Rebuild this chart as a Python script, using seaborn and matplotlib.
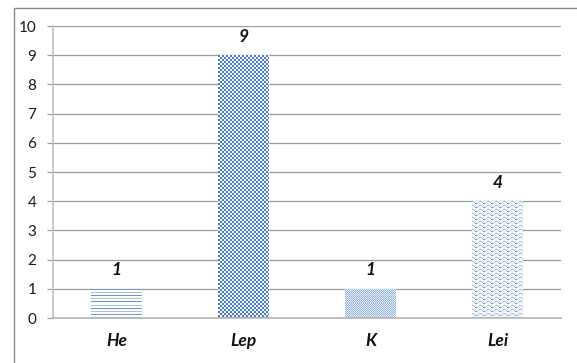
import numpy as np
import pandas as pd
import matplotlib
matplotlib.use("Agg")
import matplotlib.pyplot as plt
from matplotlib.patches import Rectangle
import matplotlib.colors as mcolors
import seaborn as sns

categories = ["He", "Lep", "K", "Lei"]
counts = [1, 9, 1, 4]
y_ticks = list(range(0, 11))

df = pd.DataFrame({"category": categories, "count": counts})

sns.set_theme(style="white")
plt.rcParams["font.family"] = ["Lato", "DejaVu Sans"]

W, H = 577, 363
fig = plt.figure(figsize=(W / 100, H / 100), dpi=100)
ax = fig.add_axes([53 / W, 1 - 318 / H, (561 - 53) / W, (318 - 26) / H])

sns.barplot(data=df, x="category", y="count", ax=ax, width=0.4,
            color="white", edgecolor="none", linewidth=0, zorder=2)

ax.set_ylim(0, 10)
ax.set_xlim(-0.5, len(categories) - 0.5)
ax.set_yticks(y_ticks)
ax.set_yticklabels([str(t) for t in y_ticks], fontsize=11, color="#1a1a1a")
ax.set_xlabel("")
ax.set_ylabel("")

# horizontal gridlines
ax.yaxis.grid(True, color="#9a9a9a", linewidth=0.9, zorder=0)
ax.xaxis.grid(False)
ax.set_axisbelow(True)

for side in ["top", "right"]:
    ax.spines[side].set_visible(False)
ax.spines["left"].set_color("#c0c0c0")
ax.spines["bottom"].set_color("#b4b4b4")
ax.spines["left"].set_linewidth(1.2)
ax.spines["bottom"].set_linewidth(1.2)

# category labels between boundary ticks
ax.set_xticks(np.arange(len(categories)))
ax.set_xticklabels(categories, fontsize=12.5, fontweight="bold", fontstyle="italic",
                   color="#111111")
ax.tick_params(axis="x", length=0, pad=11)
ax.set_xticks(np.arange(-0.5, len(categories)), minor=True)
ax.tick_params(axis="x", which="minor", direction="out", length=5,
               color="#b4b4b4", width=1.2)
ax.tick_params(axis="y", direction="out", length=4, color="#9a9a9a",
               width=0.9, pad=8, left=True)


def rgb(h):
    return np.array(mcolors.to_rgb(h))


def fill_pattern(name, h, w):
    img = np.ones((h, w, 3))
    yy, xx = np.mgrid[0:h, 0:w]
    if name == "lines":
        dark, light = rgb("#6d93cd"), rgb("#a8c0e4")
        for r in range(h):
            if r % 3 == 1:
                img[r, :] = dark if (r // 3) % 2 == 0 else light
    elif name == "bigcheck":
        mask = ((xx // 2) + (yy // 2)) % 2 == 0
        img[mask] = rgb("#4a7cc4")
        img[~mask] = rgb("#f4f7fc")
    elif name == "smallcheck":
        mask = (xx + yy) % 2 == 0
        img[mask] = rgb("#9fbbe3")
        img[~mask] = rgb("#e2eaf6")
        grid = (xx % 4 == 0) | (yy % 4 == 0)
        img[grid & mask] = rgb("#8eaedc")
    elif name == "wave":
        wave = [0, 0, 1, 2, 2, 2, 1, 0]
        img[:] = rgb("#f7f9fd")
        light = rgb("#a6c0e6")
        dark = rgb("#7b9fd6")
        for c in range(w):
            off = wave[c % 8]
            for r0 in range(0, h, 4):
                r = r0 + off
                if r < h:
                    img[r, c] = dark if c % 8 in (3, 4) else light
    return img


pattern_names = ["lines", "bigcheck", "smallcheck", "wave"]
fig.canvas.draw()
bars = list(ax.patches)
for i, (patch, name) in enumerate(zip(bars, pattern_names)):
    bb = patch.get_window_extent()
    h = max(int(round(bb.height)), 1)
    w = max(int(round(bb.width)), 1)
    x0, y0 = patch.get_x(), patch.get_y()
    x1, y1 = x0 + patch.get_width(), y0 + patch.get_height()
    im = ax.imshow(fill_pattern(name, h, w), extent=(x0, x1, y0, y1),
                   origin="upper", interpolation="nearest", aspect="auto",
                   zorder=2.5)
    im.set_clip_path(patch)
    ax.annotate(f"{counts[i]}",
                xy=(patch.get_x() + patch.get_width() / 2, patch.get_height()),
                xytext=(0, 7.5), textcoords="offset points", ha="center", va="bottom",
                fontsize=12.5, fontweight="bold", fontstyle="italic", color="#111111")

ax.set_xlim(-0.5, len(categories) - 0.5)
ax.set_ylim(0, 10)

# chart area frame
fig.patches.append(Rectangle((14 / W, -0.1), 1.2, 1 - 8 / H + 0.1,
                             transform=fig.transFigure, fill=False,
                             edgecolor="#8a8a8a", linewidth=1.0))

fig.savefig("out.png", dpi=100)
